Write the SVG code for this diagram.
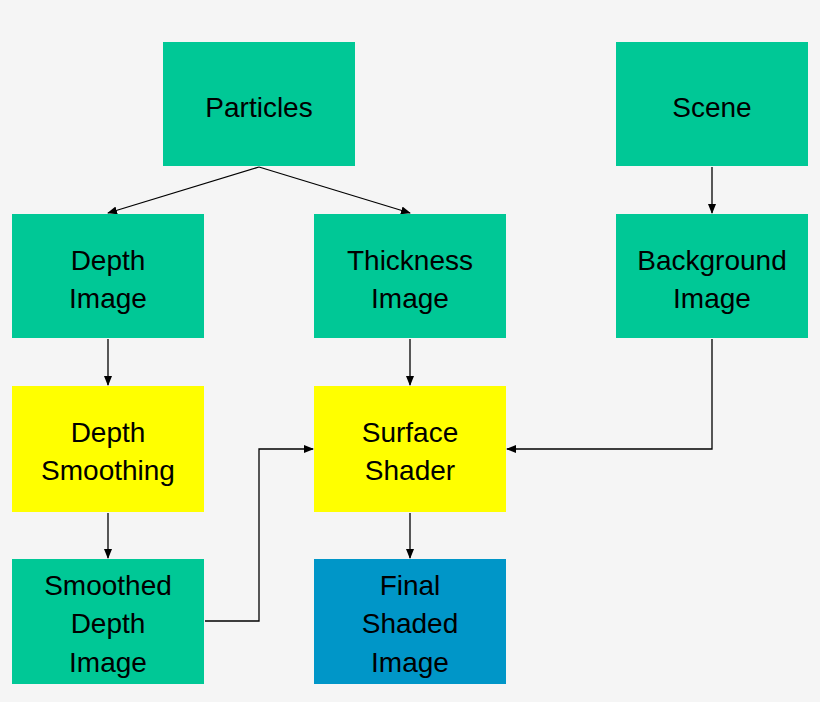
<svg xmlns="http://www.w3.org/2000/svg" width="820" height="702" viewBox="0 0 820 702">
<style>
.g{fill:#00C896}.y{fill:#FFFF00}.b{fill:#0096C8}
text{font-family:"Liberation Sans",Arial,sans-serif;font-size:28px;fill:#000;text-anchor:middle}
.c{fill:none;stroke:#000;stroke-width:1.3;marker-end:url(#a)}
</style>
<defs><marker id="a" markerWidth="10" markerHeight="8" refX="9" refY="4" orient="auto" markerUnits="userSpaceOnUse"><path d="M0,0L10,4L0,8z" fill="#000"/></marker></defs>
<rect width="820" height="702" fill="#F5F5F5"/>
<g id="connectors">
<path class="c" d="M259,167L108,213"/>
<path class="c" d="M259,167L410,213"/>
<path class="c" d="M712,167V213"/>
<path class="c" d="M108,339V385"/>
<path class="c" d="M410,339V385"/>
<path class="c" d="M712,339V449H507"/>
<path class="c" d="M108,513V558"/>
<path class="c" d="M410,513V558"/>
<path class="c" d="M205,621H259V449H313"/>
</g>
<g id="particles"><rect class="g" x="163" y="42" width="192" height="124"/><text x="259" y="117">Particles</text></g>
<g id="scene"><rect class="g" x="616" y="42" width="192" height="124"/><text x="712" y="117">Scene</text></g>
<g id="depth-image"><rect class="g" x="12" y="214" width="192" height="124"/><text x="108" y="270">Depth</text><text x="108" y="308">Image</text></g>
<g id="thickness-image"><rect class="g" x="314" y="214" width="192" height="124"/><text x="410" y="270">Thickness</text><text x="410" y="308">Image</text></g>
<g id="background-image"><rect class="g" x="616" y="214" width="192" height="124"/><text x="712" y="270">Background</text><text x="712" y="308">Image</text></g>
<g id="depth-smoothing"><rect class="y" x="12" y="386" width="192" height="126"/><text x="108" y="442">Depth</text><text x="108" y="480">Smoothing</text></g>
<g id="surface-shader"><rect class="y" x="314" y="386" width="192" height="126"/><text x="410" y="442">Surface</text><text x="410" y="480">Shader</text></g>
<g id="smoothed-depth-image"><rect class="g" x="12" y="559" width="192" height="125"/><text x="108" y="595">Smoothed</text><text x="108" y="633">Depth</text><text x="108" y="672">Image</text></g>
<g id="final-shaded-image"><rect class="b" x="314" y="559" width="192" height="125"/><text x="410" y="595">Final</text><text x="410" y="633">Shaded</text><text x="410" y="672">Image</text></g>
</svg>
